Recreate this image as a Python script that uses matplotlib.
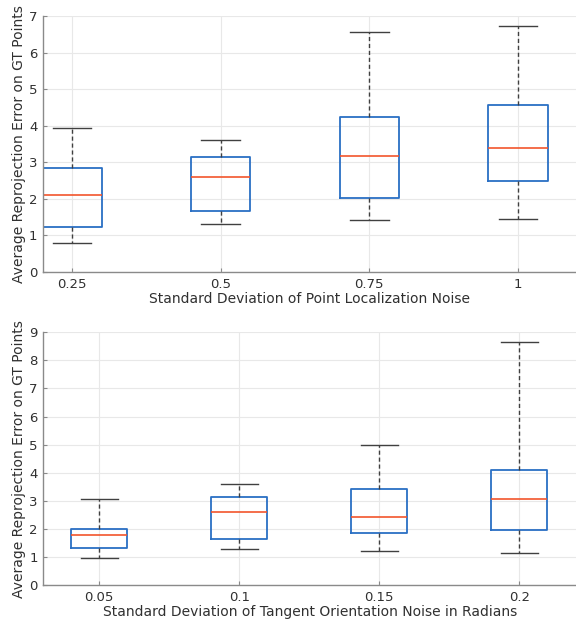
import matplotlib
matplotlib.use("Agg")
import matplotlib.pyplot as plt

# --- data ---
top_labels = ["0.25", "0.5", "0.75", "1"]
top_whislo = [0.78, 1.30, 1.41, 1.44]
top_q1 = [1.23, 1.66, 2.01, 2.48]
top_med = [2.10, 2.59, 3.18, 3.39]
top_q3 = [2.85, 3.14, 4.23, 4.58]
top_whishi = [3.95, 3.61, 6.56, 6.72]

bot_labels = ["0.05", "0.1", "0.15", "0.2"]
bot_whislo = [0.96, 1.29, 1.20, 1.13]
bot_q1 = [1.33, 1.65, 1.84, 1.95]
bot_med = [1.77, 2.59, 2.41, 3.05]
bot_q3 = [2.01, 3.12, 3.43, 4.11]
bot_whishi = [3.05, 3.61, 4.97, 8.67]

top_xlabel = "Standard Deviation of Point Localization Noise"
bot_xlabel = "Standard Deviation of Tangent Orientation Noise in Radians"
ylabel = "Average Reprojection Error on GT Points"

BOX = "#2a6fc4"
MED = "#f2552c"
WH = "#404040"
TXT = "#303030"

fig = plt.figure(figsize=(5.76, 6.25), dpi=100)

def draw(ax, labels, lo, q1, med, q3, hi, ymax, xlim, xlabel):
    stats = []
    for i in range(len(labels)):
        stats.append(dict(med=med[i], q1=q1[i], q3=q3[i], whislo=lo[i],
                          whishi=hi[i], fliers=[], label=labels[i]))
    ax.bxp(stats, positions=range(1, len(labels) + 1), widths=0.4,
           capwidths=0.26, showfliers=False,
           boxprops=dict(color=BOX, linewidth=1.3),
           medianprops=dict(color=MED, linewidth=1.2),
           whiskerprops=dict(color=WH, linewidth=1.0, linestyle=(0, (3, 2))),
           capprops=dict(color=WH, linewidth=1.0))
    ax.set_xlim(*xlim)
    ax.set_ylim(0, ymax)
    ax.set_yticks(range(0, ymax + 1))
    ax.set_xticks(range(1, len(labels) + 1))
    ax.set_xticklabels(labels)
    ax.grid(True, color="#e8e8e8", linewidth=0.8)
    ax.set_axisbelow(True)
    for s in ["top", "right"]:
        ax.spines[s].set_visible(False)
    for s in ["left", "bottom"]:
        ax.spines[s].set_color("#8a8a8a")
        ax.spines[s].set_linewidth(1.0)
    ax.tick_params(direction="in", length=3, color="#8a8a8a", labelsize=9.5,
                   labelcolor=TXT, pad=4)
    ax.set_xlabel(xlabel, fontsize=10, color=TXT, labelpad=1)
    ax.set_ylabel(ylabel, fontsize=10, color=TXT, labelpad=2)

ax1 = fig.add_axes([43 / 576, 1 - 272 / 625, 1 - 43 / 576, 256 / 625])
draw(ax1, top_labels, top_whislo, top_q1, top_med, top_q3, top_whishi, 7,
     (0.805, 4.39), top_xlabel)

ax2 = fig.add_axes([43.3 / 576, 1 - 585 / 625, 1 - 43.3 / 576, 252.7 / 625])
draw(ax2, bot_labels, bot_whislo, bot_q1, bot_med, bot_q3, bot_whishi, 9,
     (0.6, 4.405), bot_xlabel)

fig.savefig("out.png", dpi=100)
